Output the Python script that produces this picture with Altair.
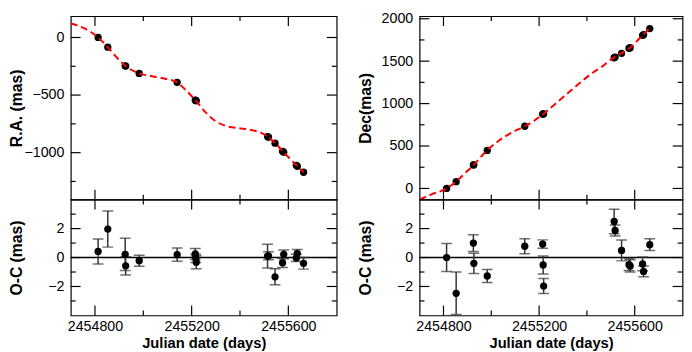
import altair as alt
import pandas as pd

# ---------------- data ----------------
epoch_jd = [2454813, 2454853, 2454925, 2454927, 2454983, 2455140, 2455215, 2455217, 2455219,
            2455514, 2455518, 2455545, 2455576, 2455581, 2455633, 2455637, 2455663]
ra_mas = [0, -84, -246, -248, -312, -389, -544, -547, -550,
          -860, -866, -918, -988, -996, -1110, -1118, -1170]
dec_mas = [0, 80, 277, 279, 448, 733, 876, 878, 880,
           1540, 1548, 1593, 1652, 1658, 1805, 1812, 1884]

ra_oc = [0.42, 1.97, 0.22, -0.57, -0.22, 0.20, 0.25, -0.05, -0.32,
         0.10, 0.12, -1.33, -0.36, 0.22, -0.03, 0.28, -0.40]
ra_err = [0.86, 1.25, 1.12, 0.63, 0.38, 0.46, 0.38, 0.30, 0.45,
          0.82, 0.28, 0.55, 0.33, 0.30, 0.25, 0.27, 0.40]
dec_oc = [0.00, -2.47, 1.00, -0.40, -1.27, 0.78, 0.93, -0.51, -1.97,
          2.49, 1.87, 0.49, -0.49, -0.58, -0.44, -0.96, 0.89]
dec_err = [0.97, 1.47, 0.58, 0.70, 0.45, 0.52, 0.29, 0.62, 0.52,
           0.84, 0.38, 0.72, 0.40, 0.42, 0.48, 0.37, 0.41]

ra_model_jd = [2454700, 2454750, 2454813, 2454853, 2454888, 2454925, 2454983, 2455036, 2455090,
               2455140, 2455178, 2455217, 2455260, 2455300, 2455345, 2455405, 2455460, 2455490,
               2455516, 2455546, 2455580, 2455635, 2455664]
ra_model = [121, 85, 0, -84, -168, -246, -311, -336, -358,
            -389, -462, -548, -655, -728, -770, -790, -810, -830,
            -862, -918, -994, -1114, -1170]

dec_model_jd = [2454700, 2454750, 2454813, 2454852, 2454890, 2454926, 2454982, 2455030, 2455090,
                2455140, 2455180, 2455218, 2455265, 2455315, 2455365, 2455410, 2455460, 2455512,
                2455545, 2455579, 2455634, 2455661]
dec_model = [-130, -70, 0, 80, 180, 277, 448, 560, 665,
             733, 800, 878, 990, 1110, 1230, 1335, 1430, 1542,
             1595, 1656, 1809, 1884]

x_major = [2454800, 2455200, 2455600]
x_minor = [2455000, 2455400]
ra_major = [0, -500, -1000]
ra_minor = [-250, -750, -1250]
dec_major = [0, 500, 1000, 1500, 2000]
dec_minor = [250, 750, 1250, 1750]
oc_major = [-2, 0, 2]
oc_minor = [-3, -1, 1, 3]

X_DOMAIN = [2454700, 2455800]
RA_DOMAIN = [-1408, 185]
DEC_DOMAIN = [-132, 2030]
OC_DOMAIN = [-4, 4]

FONT = "Liberation Sans"
W_L, W_R = 271, 268
H_TOP, H_BOT = 187, 118
MAJ, MIN = 10, 5
TICK_W = 1.2
BAR_COLOR = "#333333"

pts = pd.DataFrame({
    "jd": epoch_jd, "ra": ra_mas, "dec": dec_mas,
    "ra_oc": ra_oc, "ra_lo": [v - e for v, e in zip(ra_oc, ra_err)],
    "ra_hi": [v + e for v, e in zip(ra_oc, ra_err)],
    "dec_oc": dec_oc, "dec_lo": [v - e for v, e in zip(dec_oc, dec_err)],
    "dec_hi": [v + e for v, e in zip(dec_oc, dec_err)],
})
ra_curve = pd.DataFrame({"jd": ra_model_jd, "v": ra_model})
dec_curve = pd.DataFrame({"jd": dec_model_jd, "v": dec_model})


def xenc(field, show):
    if show:
        ax = alt.Axis(values=x_major, format="d", title="Julian date (days)",
                      domain=False, ticks=False, tickSize=0, grid=False,
                      labelPadding=4, titlePadding=3, labelFontSize=14.5,
                      titleFontSize=15, titleFontWeight="bold", labelFont=FONT,
                      titleFont=FONT, labelColor="black", titleColor="black")
    else:
        ax = None
    return alt.X(f"{field}:Q", scale=alt.Scale(domain=X_DOMAIN, nice=False, zero=False), axis=ax)


def make_yenc(domain, labels, title, ext, tpad):
    def yenc(field):
        ax = alt.Axis(values=labels, format="d", title=title, domain=False, ticks=False,
                      tickSize=0, grid=False, labelPadding=7, labelFontSize=14.5,
                      titleFontSize=16, titleFontWeight="bold", labelFont=FONT,
                      titleFont=FONT, labelColor="black", titleColor="black",
                      minExtent=ext, maxExtent=ext, titlePadding=tpad)
        return alt.Y(f"{field}:Q", scale=alt.Scale(domain=domain, nice=False, zero=False), axis=ax)
    return yenc


def tick_layers(W, H, show_x, yenc, y_major, y_minor):
    layers = []
    for vals, L in ((x_major, MAJ), (x_minor, MIN)):
        d = pd.DataFrame({"t": vals})
        b = alt.Chart(d).mark_rule(color="black", strokeWidth=TICK_W)
        layers.append(b.encode(x=xenc("t", show_x), y=alt.value(0), y2=alt.value(L)))
        layers.append(b.encode(x=xenc("t", show_x), y=alt.value(H - L), y2=alt.value(H)))
    for vals, L in ((y_major, MAJ), (y_minor, MIN)):
        d = pd.DataFrame({"t": vals})
        b = alt.Chart(d).mark_rule(color="black", strokeWidth=TICK_W)
        layers.append(b.encode(y=yenc("t"), x=alt.value(0), x2=alt.value(L)))
        layers.append(b.encode(y=yenc("t"), x=alt.value(W - L), x2=alt.value(W)))
    return layers


def top_panel(W, col, curve, domain, labels, minors, title, ext, tpad):
    yenc = make_yenc(domain, labels, title, ext, tpad)
    points = alt.Chart(pts).mark_circle(color="black", opacity=1, size=55).encode(
        x=xenc("jd", False), y=yenc(col))
    line = alt.Chart(curve).mark_line(color="red", strokeDash=[7, 4], strokeWidth=2,
                                      interpolate="monotone", clip=True).encode(
        x=xenc("jd", False), y=yenc("v"))
    layers = tick_layers(W, H_TOP, False, yenc, labels, minors) + [points, line]
    return alt.layer(*layers).properties(width=W, height=H_TOP)


def oc_panel(W, prefix, ext, tpad):
    yenc = make_yenc(OC_DOMAIN, oc_major, "O-C (mas)", ext, tpad)
    zero = alt.Chart(pd.DataFrame({"z": [0]})).mark_rule(color="black", strokeWidth=1.5).encode(
        y=yenc("z"))
    bars = alt.Chart(pts).mark_rule(color=BAR_COLOR, strokeWidth=1.5, clip=True).encode(
        x=xenc("jd", True), y=yenc(f"{prefix}_lo"), y2=f"{prefix}_hi:Q")
    cap_lo = alt.Chart(pts).mark_tick(color=BAR_COLOR, orient="horizontal", size=11,
                                      thickness=1.5, clip=True).encode(
        x=xenc("jd", True), y=yenc(f"{prefix}_lo"))
    cap_hi = alt.Chart(pts).mark_tick(color=BAR_COLOR, orient="horizontal", size=11,
                                      thickness=1.5, clip=True).encode(
        x=xenc("jd", True), y=yenc(f"{prefix}_hi"))
    points = alt.Chart(pts).mark_circle(color="black", opacity=1, size=55).encode(
        x=xenc("jd", True), y=yenc(f"{prefix}_oc"))
    layers = [zero] + tick_layers(W, H_BOT, True, yenc, oc_major, oc_minor) + \
        [bars, cap_lo, cap_hi, points]
    return alt.layer(*layers).properties(width=W, height=H_BOT)


left = alt.vconcat(
    top_panel(W_L, "ra", ra_curve, RA_DOMAIN, ra_major, ra_minor, "R.A. (mas)", 43, 4),
    oc_panel(W_L, "ra", 43, 4),
    spacing=0, bounds="flush",
)
right = alt.vconcat(
    top_panel(W_R, "dec", dec_curve, DEC_DOMAIN, dec_major, dec_minor, "Dec(mas)", 43, 4),
    oc_panel(W_R, "dec", 43, 4),
    spacing=0, bounds="flush",
)

chart = alt.hconcat(left, right, spacing=18.5).properties(
    padding={"top": -2, "left": 0, "right": 0, "bottom": 0}
).configure_view(stroke="black", strokeWidth=1.2)

chart.save("out.html", embed_options={"renderer": "svg", "actions": False})
